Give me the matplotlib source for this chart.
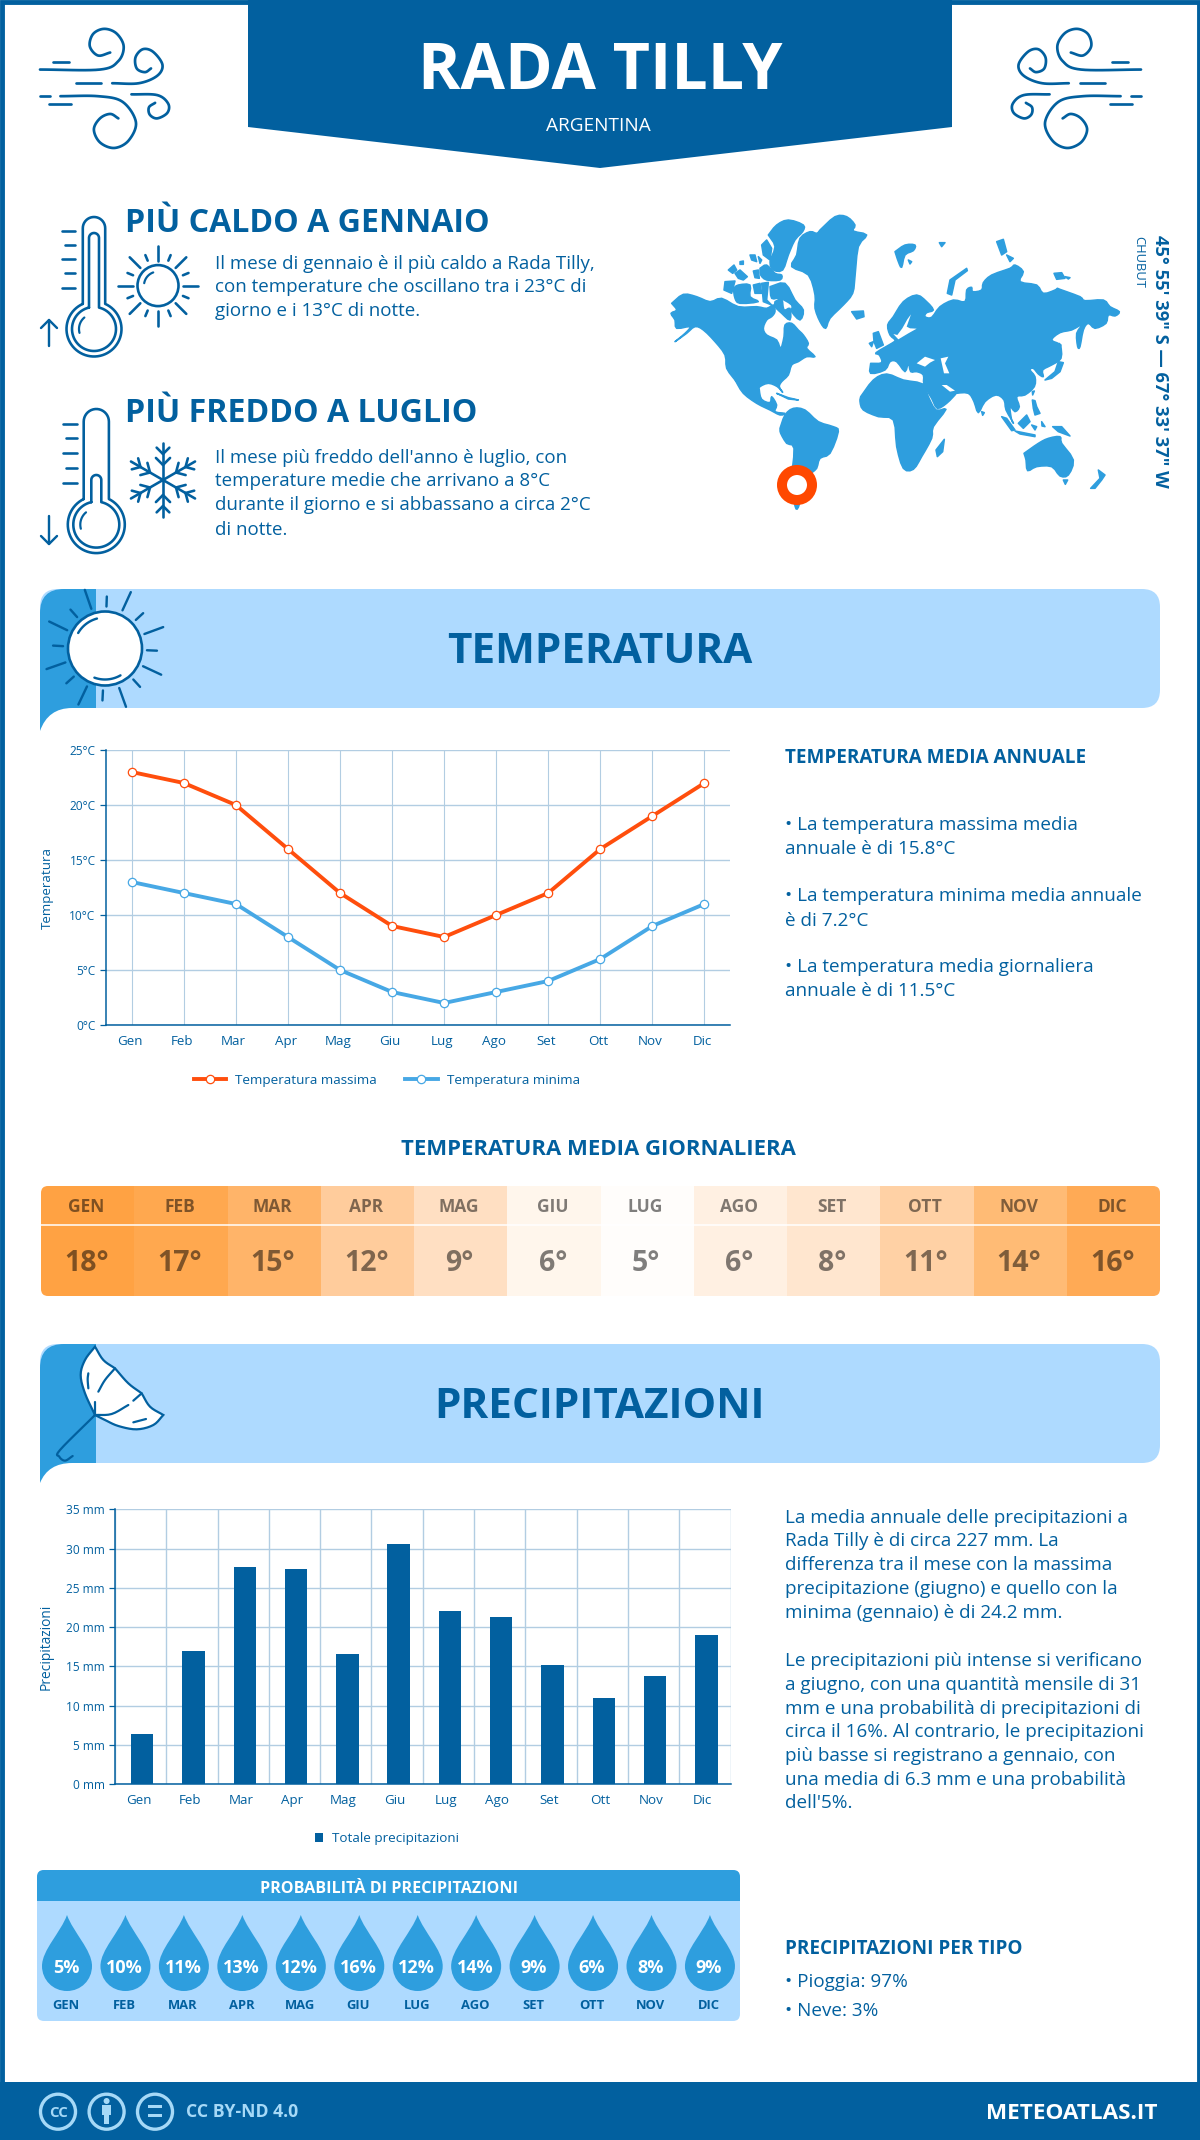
import matplotlib
matplotlib.use("Agg")
import matplotlib.pyplot as plt
import numpy as np
from matplotlib.patches import Circle, FancyBboxPatch, PathPatch, Polygon, Rectangle
from matplotlib.path import Path
from matplotlib.transforms import ScaledTranslation

plt.rcParams["font.family"] = ["Open Sans", "DejaVu Sans"]

# Data
months = ["Gen", "Feb", "Mar", "Apr", "Mag", "Giu", "Lug", "Ago", "Set", "Ott", "Nov", "Dic"]
months_upper = ["GEN", "FEB", "MAR", "APR", "MAG", "GIU", "LUG", "AGO", "SET", "OTT", "NOV", "DIC"]
temp_max = [23, 22, 20, 16, 12, 9, 8, 10, 12, 16, 19, 22]
temp_min = [13, 12, 11, 8, 5, 3, 2, 3, 4, 6, 9, 11]
temp_avg = [18, 17, 15, 12, 9, 6, 5, 6, 8, 11, 14, 16]
rain_mm = [6.4, 17.0, 27.7, 27.4, 16.6, 30.6, 22.1, 21.3, 15.2, 11.0, 13.8, 19.0]
rain_prob = [5, 10, 11, 13, 12, 16, 12, 14, 9, 6, 8, 9]

# Colours
BLUE = "#02609f"
MID = "#2e9ede"
LIGHT = "#aedaff"
ORANGE = "#ff4e0d"
LINE_BLUE = "#47a8e5"
GRID = "#b2cde2"
heat_colors = ["#ffa243", "#ffa84f", "#ffb469", "#ffcc9c", "#ffdfc2", "#fff6ec",
               "#fffdfb", "#fff0e2", "#ffe6cf", "#ffd1a5", "#ffbb75", "#ffaa55"]

W, H = 1200, 2140
fig = plt.figure(figsize=(W / 100, H / 100), dpi=100)
bg = fig.add_axes([0, 0, 1, 1])
bg.set_xlim(0, W)
bg.set_ylim(H, 0)
bg.axis("off")


def txt(x, y, s, px, color=BLUE, weight="normal", ha="left", va="baseline", rot=0):
    # size given in pixels, y is the baseline
    return bg.text(x, y, s, fontsize=px * 0.72, color=color, fontweight=weight,
                   ha=ha, va=va, rotation=rot)


def smooth(pts, n=10):
    p = np.array(pts, float)
    p = np.vstack([2 * p[0] - p[1], p, 2 * p[-1] - p[-2]])
    out = []
    for i in range(1, len(p) - 2):
        for t in np.linspace(0, 1, n, endpoint=False):
            out.append(0.5 * (2 * p[i] + (p[i + 1] - p[i - 1]) * t
                              + (2 * p[i - 1] - 5 * p[i] + 4 * p[i + 1] - p[i + 2]) * t * t
                              + (3 * p[i] - p[i - 1] - 3 * p[i + 1] + p[i + 2]) * t ** 3))
    out.append(p[-2])
    return np.array(out)


def stroke(xy, lw=2.2, color=BLUE, z=3):
    xy = np.asarray(xy, float)
    bg.plot(xy[:, 0], xy[:, 1], color=color, lw=lw * 0.72, solid_capstyle="round", zorder=z)


# Frame, header and footer
bg.add_patch(Rectangle((1.5, 1.5), W - 3, H - 3, fc="white", ec=BLUE, lw=3.5))
bg.add_patch(Polygon([(248, 0), (952, 0), (952, 127), (600, 168), (248, 127)], fc=BLUE, ec="none"))
bg.add_patch(Rectangle((0, 2082), W, 58, fc=BLUE, ec="none"))
txt(600, 89, "RADA TILLY", 64.5, "white", "bold", ha="center")
txt(598, 131, "ARGENTINA", 19, "white", ha="center")

# Wind icons
wind = [
    [(98, 188), (245, 188), (290, 165), (303, 125), (285, 90), (255, 78), (228, 92), (220, 125), (240, 150), (270, 142)],
    [(130, 167), (170, 167)],
    [(187, 225), (248, 225)],
    [(275, 225), (340, 225), (385, 205), (398, 175), (375, 140), (350, 133), (332, 155), (335, 185), (355, 195), (370, 185)],
    [(98, 259), (122, 259)],
    [(148, 260), (240, 260), (300, 275), (333, 330), (315, 380), (280, 400), (245, 385), (230, 350), (245, 320), (270, 308), (290, 320)],
    [(120, 282), (175, 282)],
    [(322, 255), (385, 257), (412, 280), (410, 305), (385, 320), (367, 310), (365, 290), (380, 278)],
]
for pts in wind:
    xy = smooth([(x / 2.45, y / 2.703) for x, y in pts])
    stroke(xy, 2.7)
    stroke(np.column_stack([1181 - xy[:, 0], xy[:, 1]]), 2.7)


def thermo(cx, top, cy, w, r):
    a = np.arcsin(w / r)
    t = np.linspace(-(np.pi - a), np.pi - a, 60)
    bulb = np.column_stack([cx + r * np.sin(t), cy + r * np.cos(t)])
    c = np.linspace(0, np.pi, 20)
    cap = np.column_stack([cx + w * np.cos(c), top + w - w * np.sin(c)])
    return np.vstack([bulb, cap, bulb[:1]])


def arc(cx, cy, r, a0, a1):
    t = np.radians(np.linspace(a0, a1, 20))
    return np.column_stack([cx + r * np.cos(t), cy - r * np.sin(t)])


# Hot thermometer and sun
stroke(thermo(94, 217, 329, 11.2, 27.5), 2.6)
stroke(thermo(94, 233, 329, 5, 22), 2.6)
stroke(arc(94, 329, 15, 130, 195))
for y, x0 in zip([231, 245, 259, 273, 288], [62, 65, 62, 65, 62]):
    stroke([(x0, y), (75, y)], 2.6)
stroke([(49, 346), (49, 320)], 2.4)
stroke([(41, 328), (49, 320), (57, 328)], 2.4)
bg.add_patch(Circle((158, 285.6), 20.5, fc="none", ec=BLUE, lw=1.9))
stroke(arc(158, 285.6, 14, 110, 170))
for k in range(16):
    ang = np.radians(k * 22.5)
    r0, r1 = (25, 40) if k % 2 == 0 else (27, 33)
    stroke([(158 + r0 * np.cos(ang), 285.6 + r0 * np.sin(ang)),
            (158 + r1 * np.cos(ang), 285.6 + r1 * np.sin(ang))], 2.6)
txt(125, 232, "PIÙ CALDO A GENNAIO", 32.2, weight="bold")
for y, s in zip([269, 292, 316], ["Il mese di gennaio è il più caldo a Rada Tilly,",
                                  "con temperature che oscillano tra i 23°C di",
                                  "giorno e i 13°C di notte."]):
    txt(215, y, s, 18.75)

# Cold thermometer and snowflake
stroke(thermo(96.3, 409, 524.6, 12.6, 28.5), 2.6)
stroke(thermo(96.3, 475, 524.6, 5, 23), 2.6)
stroke(arc(96.3, 524.6, 16, 130, 195))
for y, x0 in zip([423.6, 438, 453, 468, 483], [63, 66, 63, 66, 63]):
    stroke([(x0, y), (77, y)], 2.6)
stroke([(49, 516), (49, 544)], 2.4)
stroke([(41, 536), (49, 544), (57, 536)], 2.4)
for k in range(6):
    ang = np.radians(90 + k * 60)
    u = np.array([np.cos(ang), np.sin(ang)])
    c = np.array([163.0, 480.0])
    stroke([c, c + 37 * u], 2.6)
    for rr, ll in [(15, 10), (26, 9)]:
        for sgn in (-1, 1):
            b = np.radians(90 + k * 60 + sgn * 45)
            stroke([c + rr * u, c + rr * u + ll * np.array([np.cos(b), np.sin(b)])], 2.6)
txt(125, 422, "PIÙ FREDDO A LUGLIO", 32.2, weight="bold")
for y, s in zip([463, 486.5, 510.5, 534.6], ["Il mese più freddo dell'anno è luglio, con",
                                             "temperature medie che arrivano a 8°C",
                                             "durante il giorno e si abbassano a circa 2°C",
                                             "di notte."]):
    txt(215, y, s, 18.75)


# World map in crops taken at three offsets
def west(pts):
    return [(660 + x / 3, 205 + y / 3) for x, y in pts]


def south(pts):
    return [(720 + x / 3, 380 + y / 3) for x, y in pts]


def mid(pts):
    return [(850 + x / 3, 230 + y / 3) for x, y in pts]


def east(pts):
    return [(980 + x / 3, 230 + y / 3) for x, y in pts]


north_america = (
    west([(35, 295), (70, 268), (110, 275), (150, 290), (185, 280), (235, 305), (290, 305), (320, 310), (340, 300),
          (345, 320), (335, 335), (320, 345), (310, 370), (320, 390), (350, 405), (362, 430), (372, 395), (375, 360),
          (395, 355), (415, 375), (430, 390), (445, 415), (440, 430), (465, 455), (440, 455), (415, 470), (395, 480),
          (385, 510), (365, 530), (358, 545), (368, 562), (352, 545), (325, 535), (300, 545)])
    + south([(118, 30), (125, 58), (150, 68), (155, 50), (170, 75), (165, 95), (195, 100), (180, 105), (150, 90),
             (110, 70), (70, 40), (48, 5)])
    + west([(225, 525), (200, 490), (195, 450), (165, 410), (130, 375), (105, 365), (80, 385), (45, 410), (75, 385),
            (90, 365), (50, 370), (45, 345), (33, 325), (50, 315)])
)
south_america = south([(180, 145), (195, 105), (220, 85), (255, 90), (295, 125), (340, 140), (355, 155), (330, 220),
                       (300, 235), (290, 265), (270, 285), (250, 330), (235, 382), (225, 378), (215, 300), (222, 205),
                       (200, 190), (182, 160)])
greenland = west([(480, 75), (525, 35), (560, 35), (585, 60), (580, 78), (620, 90), (595, 125), (585, 215), (578, 265),
                  (550, 300), (510, 340), (497, 370), (480, 350), (465, 310), (465, 270), (445, 210), (395, 185),
                  (410, 150), (420, 100), (450, 80), (470, 85)])
arctic = [
    [(325, 90), (350, 60), (385, 45), (430, 60), (428, 80), (405, 105), (385, 150), (368, 195), (340, 195), (330, 170), (345, 125)],
    [(305, 120), (320, 105), (335, 130), (330, 165), (310, 150)],
    [(205, 195), (222, 180), (230, 195), (218, 205)], [(225, 205), (240, 195), (262, 215), (250, 225), (235, 220)],
    [(270, 150), (285, 150), (290, 170), (275, 165)], [(295, 155), (305, 165), (300, 175)],
    [(240, 170), (250, 168), (250, 178), (240, 178)], [(280, 198), (295, 195), (298, 220), (285, 218)],
    [(300, 190), (320, 180), (345, 205), (365, 210), (360, 225), (320, 225), (302, 210)],
    [(195, 230), (225, 228), (215, 265), (192, 255)], [(220, 250), (235, 240), (270, 240), (270, 275), (295, 290), (240, 295), (225, 280)],
    [(280, 240), (300, 235), (305, 265), (285, 265)], [(305, 235), (325, 232), (320, 285), (335, 300), (310, 290)],
    [(330, 245), (375, 235), (405, 285), (430, 315), (420, 345), (395, 320), (395, 300), (360, 280), (335, 280)],
    [(345, 290), (365, 282), (372, 315), (390, 310), (390, 345), (365, 325), (345, 305)],
    [(575, 320), (610, 318), (612, 335), (590, 342)], [(350, 565), (385, 578), (415, 585), (385, 582)],
]
eurasia = (
    mid([(62, 400), (95, 398), (88, 375), (78, 368), (125, 340), (135, 330), (120, 315), (113, 285), (130, 260), (160, 215),
         (200, 195), (230, 215), (250, 240), (230, 248), (225, 260), (245, 262), (270, 230), (310, 210), (345, 215), (350, 180),
         (365, 172), (368, 185), (395, 180), (400, 158), (425, 135), (480, 115), (495, 105), (520, 125), (510, 155), (560, 165),
         (580, 190), (615, 180)])
    + east([(232, 175), (240, 178), (300, 200), (315, 212), (370, 210), (390, 230), (418, 245), (405, 258), (385, 255),
            (378, 280), (345, 295), (325, 280), (310, 300), (300, 350), (293, 350), (290, 310), (305, 285), (275, 300),
            (240, 308), (215, 330), (240, 345), (243, 385), (215, 405), (188, 420), (190, 440), (175, 432), (160, 415),
            (150, 420), (165, 440), (163, 470), (135, 495), (110, 500), (118, 530), (105, 545), (90, 530), (95, 570),
            (100, 578), (78, 540), (72, 510), (48, 495), (15, 515)])
    + mid([(385, 548), (372, 515), (355, 490), (320, 490), (315, 495), (290, 520), (262, 535), (245, 505), (222, 465),
           (220, 435), (200, 425), (182, 425), (175, 400), (165, 425), (140, 395), (120, 395), (105, 420), (62, 430)])
)
africa = mid([(32, 500), (70, 450), (110, 432), (160, 450), (218, 462), (235, 500), (258, 540), (288, 538), (250, 590),
              (245, 625), (215, 680), (190, 718), (160, 715), (140, 650), (130, 570), (85, 560), (40, 540), (30, 515)])
mid_islands = [
    [(283, 628), (278, 665), (262, 680), (258, 660)], [(70, 310), (85, 305), (100, 345), (80, 355), (72, 335)],
    [(58, 340), (70, 335), (65, 350)], [(135, 65), (165, 45), (195, 45), (190, 62), (165, 75), (155, 112), (145, 95)],
    [(175, 90), (185, 95), (180, 102)], [(268, 38), (285, 38), (275, 50)],
    [(292, 190), (300, 150), (350, 115), (352, 122), (315, 150), (305, 195)],
    [(440, 35), (460, 28), (470, 65), (455, 75)], [(470, 75), (490, 85), (480, 95)], [(395, 545), (403, 548), (398, 556)],
]
east_islands = [
    [(222, 130), (245, 128), (255, 145), (230, 148)], [(255, 140), (270, 143), (265, 147)],
    [(195, 450), (225, 425), (235, 395), (250, 398), (240, 425), (215, 445)], [(237, 340), (243, 345), (240, 385), (235, 385)],
    [(157, 485), (163, 483), (158, 495)], [(157, 510), (165, 512), (170, 530), (180, 550), (165, 555), (160, 535)],
    [(115, 580), (140, 555), (150, 575), (130, 595)], [(65, 560), (80, 565), (105, 600), (95, 602)],
    [(105, 603), (165, 615), (165, 620), (120, 612)], [(155, 585), (170, 590), (165, 600)],
    [(218, 590), (245, 590), (270, 618), (235, 605)], [(185, 575), (195, 590), (186, 588)],
    [(132, 670), (175, 640), (205, 625), (240, 620), (245, 640), (280, 690), (265, 735), (240, 738), (215, 710), (170, 710), (143, 722), (138, 690)],
    [(250, 750), (263, 750), (256, 763)], [(332, 775), (360, 745), (355, 720), (375, 735), (365, 750), (345, 775)],
]
water = [
    [(200, 400), (225, 380), (255, 390), (240, 398), (225, 410)], [(272, 385), (295, 380), (285, 400), (298, 430), (282, 430)],
    [(130, 312), (145, 328), (175, 310), (200, 296), (180, 295), (170, 290), (183, 253), (172, 268), (157, 295), (142, 315)],
    [(275, 465), (290, 465), (315, 482), (300, 485)],
]
land = [north_america, south_america, greenland, eurasia, africa]
land += [west(s) for s in arctic] + [mid(s) for s in mid_islands] + [east(s) for s in east_islands]
for shape in land:
    outline = smooth(shape + shape[:1], 3) if len(shape) > 6 else shape
    bg.add_patch(Polygon(outline, fc=MID, ec=MID, lw=1.1, joinstyle="round"))
for shape in water:
    bg.add_patch(Polygon(mid(shape), fc="white", ec="none"))
bg.add_patch(Circle((797, 485), 15, fc="white", ec="#ff4800", lw=10 * 0.72, zorder=4))
txt(1160, 235, "45° 55' 39\" S — 67° 33' 37\" W", 18.3, weight="bold", ha="center", va="top", rot=-90)
txt(1139, 236, "CHUBUT", 13, ha="center", va="top", rot=-90)


def band(top, bottom, tail, split, title, base):
    bg.add_patch(FancyBboxPatch((40, top), 1120, bottom - top, boxstyle="round,pad=0,rounding_size=18",
                                fc=LIGHT, ec="none"))
    verts = [(40, tail), (40, top + 24), (40, top), (64, top), (split, top), (split, bottom), (72, bottom),
             (48, bottom), (40, tail)]
    codes = [Path.MOVETO, Path.LINETO, Path.CURVE3, Path.CURVE3, Path.LINETO, Path.LINETO, Path.LINETO,
             Path.CURVE3, Path.CURVE3]
    bg.add_patch(PathPatch(Path(verts, codes), fc=MID, ec="none"))
    txt(600, base, title, 42.3, weight="bold", ha="center")


# Temperature section
band(589, 708, 731, 96, "TEMPERATURA", 663)
bg.add_patch(Circle((105, 648.5), 37, fc="white", ec=BLUE, lw=1.9, zorder=3))
stroke(arc(105, 648.5, 31, 105, 150), 2.4, z=4)
stroke(arc(105, 648.5, 31, 250, 300), 2.4, z=4)
for k in range(16):
    ang = np.radians(88 - 22.6 * k)
    r1 = 52 if k % 2 == 0 else 62
    stroke([(105 + 42 * np.cos(ang), 648.5 - 42 * np.sin(ang)),
            (105 + r1 * np.cos(ang), 648.5 - r1 * np.sin(ang))], 2.4)

ax_t = fig.add_axes([105.7 / W, 1 - 1025 / H, 624.8 / W, 275 / H])
ax_t.patch.set_alpha(0)
ax_t.plot(months, temp_max, color=ORANGE, lw=2.8, marker="o", ms=6, mfc="white", mec=ORANGE, mew=0.9,
          label="Temperatura massima", zorder=3)
ax_t.plot(months, temp_min, color=LINE_BLUE, lw=2.8, marker="o", ms=6, mfc="white", mec=LINE_BLUE, mew=0.9,
          label="Temperatura minima", zorder=3)
ax_t.set_xlim(-0.5, 11.5)
ax_t.set_ylim(0, 25)
ax_t.set_yticks([0, 5, 10, 15, 20, 25], [f"{v}°C" for v in [0, 5, 10, 15, 20, 25]])
ax_t.set_ylabel("Temperatura", fontsize=9.6, color=BLUE, labelpad=11)
ax_t.legend(loc="center", bbox_to_anchor=(0.45, -0.2), ncol=2, frameon=False, fontsize=9.7, labelcolor=BLUE,
            handlelength=2.4, handletextpad=0.7, columnspacing=2.1, borderpad=0)

# Right column, temperature
txt(785, 763, "TEMPERATURA MEDIA ANNUALE", 18.9, weight="bold")
for y, s in zip([830, 854, 901, 925.5, 972, 996.5],
                ["• La temperatura massima media", "annuale è di 15.8°C",
                 "• La temperatura minima media annuale", "è di 7.2°C",
                 "• La temperatura media giornaliera", "annuale è di 11.5°C"]):
    txt(785, y, s, 18.85)

# Mean daily temperature table
txt(598, 1155, "TEMPERATURA MEDIA GIORNALIERA", 22.2, weight="bold", ha="center")
clip = FancyBboxPatch((41, 1186), 1119, 110, boxstyle="round,pad=0,rounding_size=7", fc="none", ec="none")
bg.add_patch(clip)
cell = 1119 / 12
for i, (m, v, c) in enumerate(zip(months_upper, temp_avg, heat_colors)):
    r = Rectangle((41 + i * cell, 1186), cell + 0.5, 110, fc=c, ec="none")
    bg.add_patch(r)
    r.set_clip_path(clip)
    cx = 41 + (i + 0.5) * cell
    bg.text(cx - 1.5, 1212, m, fontsize=12.5, fontweight="bold", color="black", alpha=0.5, ha="center", va="baseline")
    bg.text(cx - 1, 1270.7, f"{v}°", fontsize=20.5, fontweight="bold", color="black", alpha=0.5, ha="center", va="baseline")
bg.plot([41, 1160], [1225, 1225], color="white", lw=1.1)

# Precipitation section
band(1344, 1463, 1483, 96, "PRECIPITAZIONI", 1418)


def umb(pts):
    return [(40 + x / 3, 1340 + y / 3) for x, y in pts]


canopy = np.vstack([
    smooth(umb([(165, 20), (190, 60), (225, 85)]), 5), smooth(umb([(225, 85), (265, 130), (305, 160)]), 5),
    smooth(umb([(305, 160), (330, 200), (370, 225)]), 5),
    smooth(umb([(370, 225), (340, 255), (290, 268), (235, 258), (195, 240), (165, 225)]), 5),
    smooth(umb([(165, 225), (135, 160), (122, 105), (135, 60), (165, 20)]), 5),
])
bg.add_patch(Polygon(canopy, fc="white", ec=BLUE, lw=1.6, zorder=3))
stroke(smooth(umb([(225, 85), (195, 120), (175, 155)]), 5), 2.2, z=4)
stroke(umb([(165, 185), (165, 225)]), 2.2, z=4)
stroke(smooth(umb([(165, 225), (215, 222), (265, 195)]), 5), 2.2, z=4)
stroke(umb([(280, 182), (305, 160)]), 2.2, z=4)
stroke(umb([(280, 247), (318, 237)]), 2.2, z=4)
stroke(smooth(umb([(145, 100), (143, 118), (145, 145)]), 5), 2.2, z=4)
stroke(smooth(umb([(165, 225), (60, 330), (58, 350), (75, 362), (98, 348)]), 6), 2.2, z=2)

ax_r = fig.add_axes([115 / W, 1 - 1784.3 / H, 615.5 / W, 275 / H])
ax_r.patch.set_alpha(0)
ax_r.bar([i + 0.53 for i in range(12)], rain_mm, width=0.435, color=BLUE, label="Totale precipitazioni", zorder=3)
ax_r.set_xlim(0, 12)
ax_r.set_ylim(0, 35)
ax_r.set_xticks([i + 0.5 for i in range(12)], months)
ax_r.set_xticks(range(13), minor=True)
ax_r.set_yticks(range(0, 36, 5), [f"{v} mm" for v in range(0, 36, 5)])
ax_r.set_ylabel("Precipitazioni", fontsize=9.9, color=BLUE, labelpad=9)
ax_r.legend(loc="center", bbox_to_anchor=(0.442, -0.198), frameon=False, fontsize=9.7, labelcolor=BLUE,
            handlelength=0.62, handleheight=0.62, handletextpad=0.7, borderpad=0)

shift = ScaledTranslation(-0.022, 0, fig.dpi_scale_trans)
for ax in (ax_t, ax_r):
    for side in ("top", "right"):
        ax.spines[side].set_visible(False)
    for side in ("left", "bottom"):
        ax.spines[side].set_color(BLUE)
        ax.spines[side].set_linewidth(1.1)
    ax.grid(True, axis="y", color=GRID, lw=1.0, zorder=0)
    ax.tick_params(axis="y", length=4.3, width=0.9, color=BLUE, labelcolor=BLUE, labelsize=8.6, pad=3)
    ax.tick_params(axis="x", length=0, labelcolor=BLUE, labelsize=9.6, pad=7)
    ax.set_axisbelow(True)
    for lab in ax.get_xticklabels():
        lab.set_transform(lab.get_transform() + shift)
ax_t.grid(True, axis="x", color=GRID, lw=0.8)
ax_r.grid(True, axis="x", which="minor", color=GRID, lw=1.0)
ax_r.tick_params(axis="x", which="minor", length=0)

# Right column, precipitation
for y, s in zip([1523, 1546.5, 1570.5, 1594.5, 1618.5],
                ["La media annuale delle precipitazioni a", "Rada Tilly è di circa 227 mm. La",
                 "differenza tra il mese con la massima", "precipitazione (giugno) e quello con la",
                 "minima (gennaio) è di 24.2 mm."]):
    txt(785, y, s, 18.85)
for y, s in zip([1665.6, 1689.6, 1713.6, 1736.7, 1760.7, 1784.7, 1808],
                ["Le precipitazioni più intense si verificano", "a giugno, con una quantità mensile di 31",
                 "mm e una probabilità di precipitazioni di", "circa il 16%. Al contrario, le precipitazioni",
                 "più basse si registrano a gennaio, con", "una media di 6.3 mm e una probabilità",
                 "dell'5%."]):
    txt(785, y, s, 18.85)
txt(785, 1954, "PRECIPITAZIONI PER TIPO", 18.9, weight="bold")
txt(785, 1987, "• Pioggia: 97%", 18.85)
txt(785, 2016, "• Neve: 3%", 18.85)

# Rain probability panel
bg.add_patch(FancyBboxPatch((37, 1870), 703, 151, boxstyle="round,pad=0,rounding_size=7", fc=LIGHT, ec="none"))
head = FancyBboxPatch((37, 1870), 703, 151, boxstyle="round,pad=0,rounding_size=7", fc="none", ec="none")
bg.add_patch(head)
strip = Rectangle((37, 1870), 703, 31, fc=MID, ec="none")
bg.add_patch(strip)
strip.set_clip_path(head)
txt(389, 1893, "PROBABILITÀ DI PRECIPITAZIONI", 16.1, "white", "bold", ha="center")
for i, (m, p) in enumerate(zip(months_upper, rain_prob)):
    cx = 67 + i * 58.45
    verts = [(cx, 1915), (cx + 6, 1932), (cx + 25, 1950), (cx + 25, 1966),
             (cx + 25, 1980), (cx + 14, 1991), (cx, 1991),
             (cx - 14, 1991), (cx - 25, 1980), (cx - 25, 1966),
             (cx - 25, 1950), (cx - 6, 1932), (cx, 1915)]
    codes = [Path.MOVETO] + [Path.CURVE4] * 12
    bg.add_patch(PathPatch(Path(verts, codes), fc=MID, ec="none"))
    txt(cx - 1, 1973, f"{p}%", 18, "white", "bold", ha="center")
    txt(cx - 1, 2009, m, 13, weight="bold", ha="center")

# Footer
CC = "#a6d9f7"
for cx in (58, 106.6, 155):
    bg.add_patch(Circle((cx, 2111.7), 17.5, fc="none", ec=CC, lw=2.4))
txt(58, 2117, "CC", 15, CC, "bold", ha="center")
bg.add_patch(Circle((106.6, 2101), 3, fc=CC, ec="none"))
bg.add_patch(Rectangle((102, 2105), 9, 10, fc=CC, ec="none"))
bg.add_patch(Rectangle((104, 2115), 5, 9, fc=CC, ec="none"))
bg.add_patch(Rectangle((148, 2105), 14, 3.2, fc=CC, ec="none"))
bg.add_patch(Rectangle((148, 2114), 14, 3.2, fc=CC, ec="none"))
txt(185.6, 2117, "CC BY-ND 4.0", 17.6, CC, "bold")
txt(1158, 2119, "METEOATLAS.IT", 22.5, "white", "bold", ha="right")

fig.savefig("out.png", dpi=100)
